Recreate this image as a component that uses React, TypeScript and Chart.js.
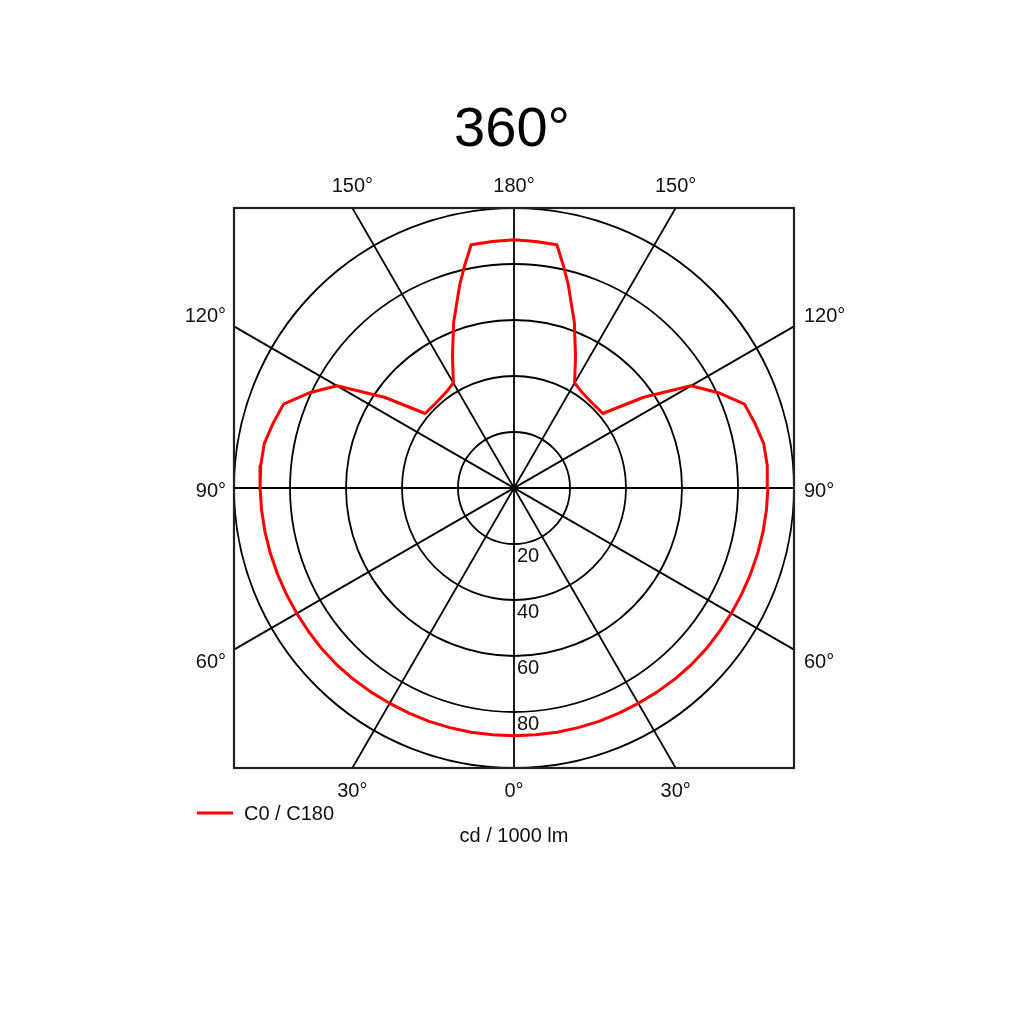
import { useEffect, useRef } from "react";
import { Chart, registerables } from "chart.js";

Chart.register(...registerables);

// Luminous intensity (cd / 1000 lm) per gamma angle, C0 / C180 plane (symmetric)
const GAMMA = [0, 5, 10, 15, 20, 25, 30, 35, 40, 45, 50, 55, 60, 65, 70, 75, 80, 85, 90, 95, 100, 105, 110, 115, 120, 125, 130, 135, 140, 145, 150, 155, 160, 165, 167.5, 170, 175, 180];
const INTENSITY = [88.5, 88.5, 88.6, 88.6, 88.7, 88.7, 88.8, 89.0, 89.2, 89.4, 89.5, 89.5, 89.6, 89.7, 89.9, 90.1, 90.3, 90.5, 90.7, 90.8, 90.6, 89.1, 87.6, 80.5, 73, 56.5, 41.4, 41.2, 41.4, 42, 43.3, 52, 63, 75, 81.4, 88.2, 88.4, 88.7];

const RINGS = [20, 40, 60, 80, 100];
const RING_LABELS = [20, 40, 60, 80];
const SPOKES = [0, 30, 60, 90, 120, 150];
const ANGLE_LABELS = [0, 30, 60, 90, 120, 150, 180];
const TITLE = "360°";
const SERIES_NAME = "C0 / C180";
const UNIT = "cd / 1000 lm";
const MAX_R = 100;

const FONT = '"Liberation Sans", Arial, Helvetica, sans-serif';
const RED = "#ff0000";

const rad = (d: number) => (d * Math.PI) / 180;

function toXY(g: number, r: number, side: number) {
  return { x: side * r * Math.sin(rad(g)), y: -r * Math.cos(rad(g)) };
}

const polarPlugin = {
  id: "polarGrid",
  beforeDatasetsDraw(chart: any) {
    const { ctx, chartArea: a, scales } = chart;
    const xs = scales.x, ys = scales.y;
    const cx = xs.getPixelForValue(0), cy = ys.getPixelForValue(0);
    ctx.save();
    ctx.beginPath();
    ctx.rect(a.left, a.top, a.right - a.left, a.bottom - a.top);
    ctx.clip();
    ctx.strokeStyle = "#000";
    ctx.lineWidth = 1.8;
    for (const r of RINGS) {
      const pr = xs.getPixelForValue(r) - cx;
      ctx.beginPath();
      ctx.arc(cx, cy, pr, 0, Math.PI * 2);
      ctx.stroke();
    }
    for (const s of SPOKES) {
      const dx = Math.sin(rad(s)) * 200, dy = -Math.cos(rad(s)) * 200;
      ctx.beginPath();
      ctx.moveTo(xs.getPixelForValue(-dx), ys.getPixelForValue(-dy));
      ctx.lineTo(xs.getPixelForValue(dx), ys.getPixelForValue(dy));
      ctx.stroke();
    }
    ctx.restore();
    ctx.save();
    ctx.strokeStyle = "#222";
    ctx.lineWidth = 2.2;
    ctx.strokeRect(a.left, a.top, a.right - a.left, a.bottom - a.top);
    ctx.restore();
  },
  afterDraw(chart: any) {
    const { ctx, chartArea: a, scales } = chart;
    const xs = scales.x, ys = scales.y;
    const cx = xs.getPixelForValue(0);
    ctx.save();
    ctx.fillStyle = "#111";
    ctx.textBaseline = "alphabetic";
    ctx.font = `20px ${FONT}`;
    // radial labels
    ctx.textAlign = "left";
    for (const v of RING_LABELS) {
      ctx.fillText(String(v), cx + 3, ys.getPixelForValue(-v) + 18);
    }
    // angle labels
    for (const g of ANGLE_LABELS) {
      const sides = g === 0 || g === 180 ? [1] : [-1, 1];
      for (const side of sides) {
        const vx = side * Math.sin(rad(g)), vy = -Math.cos(rad(g));
        const t = Math.min(
          Math.abs(vx) > 1e-9 ? MAX_R / Math.abs(vx) : Infinity,
          Math.abs(vy) > 1e-9 ? MAX_R / Math.abs(vy) : Infinity
        );
        const px = xs.getPixelForValue(vx * t), py = ys.getPixelForValue(vy * t);
        const label = `${g}°`;
        if (Math.abs(Math.abs(vx * t) - MAX_R) < 1e-6 && g !== 0 && g !== 180) {
          const off = g > 90 ? -11 : g < 90 ? 11 : 2;
          if (side < 0) {
            ctx.textAlign = "right";
            ctx.fillText(label, a.left - 8, py + off + 7);
          } else {
            ctx.textAlign = "left";
            ctx.fillText(label, a.right + 10, py + off + 7);
          }
        } else {
          ctx.textAlign = "center";
          if (vy > 0) ctx.fillText(label, px, a.top - 16);
          else ctx.fillText(label, px, a.bottom + 29);
        }
      }
    }
    // title
    ctx.textAlign = "center";
    ctx.font = `56px ${FONT}`;
    ctx.fillStyle = "#000";
    ctx.fillText(TITLE, cx - 2, 146);
    // legend
    ctx.strokeStyle = RED;
    ctx.lineWidth = 3;
    ctx.beginPath();
    ctx.moveTo(197, 813);
    ctx.lineTo(233, 813);
    ctx.stroke();
    ctx.font = `20px ${FONT}`;
    ctx.fillStyle = "#111";
    ctx.textAlign = "left";
    ctx.fillText(SERIES_NAME, 244, 820);
    // unit
    ctx.textAlign = "center";
    ctx.fillText(UNIT, cx, 842);
    ctx.restore();
  },
};

export default function App() {
  const ref = useRef<HTMLCanvasElement>(null);
  useEffect(() => {
    const canvas = ref.current;
    if (!canvas) return;
    const pts: { x: number; y: number }[] = [];
    for (let i = 0; i < GAMMA.length; i++) pts.push(toXY(GAMMA[i], INTENSITY[i], 1));
    for (let i = GAMMA.length - 1; i >= 0; i--) pts.push(toXY(GAMMA[i], INTENSITY[i], -1));
    const chart = new Chart(canvas, {
      type: "scatter",
      data: {
        datasets: [
          {
            label: SERIES_NAME,
            data: pts,
            showLine: true,
            borderColor: RED,
            backgroundColor: RED,
            borderWidth: 3,
            borderJoinStyle: "round",
            pointRadius: 0,
            tension: 0,
            fill: false,
          },
        ],
      },
      options: {
        responsive: false,
        animation: false,
        layout: { padding: { left: 234, right: 230, top: 208, bottom: 256 } },
        scales: {
          x: { type: "linear", min: -MAX_R, max: MAX_R, display: false },
          y: { type: "linear", min: -MAX_R, max: MAX_R, display: false },
        },
        plugins: {
          legend: { display: false },
          title: { display: false },
          tooltip: { enabled: false },
        },
      },
      plugins: [polarPlugin],
    });
    return () => chart.destroy();
  }, []);
  return (
    <div style={{ position: "fixed", left: 0, top: 0, width: 1024, height: 1024, background: "#fff" }}>
      <canvas ref={ref} width={1024} height={1024} style={{ width: 1024, height: 1024, display: "block" }} />
    </div>
  );
}
